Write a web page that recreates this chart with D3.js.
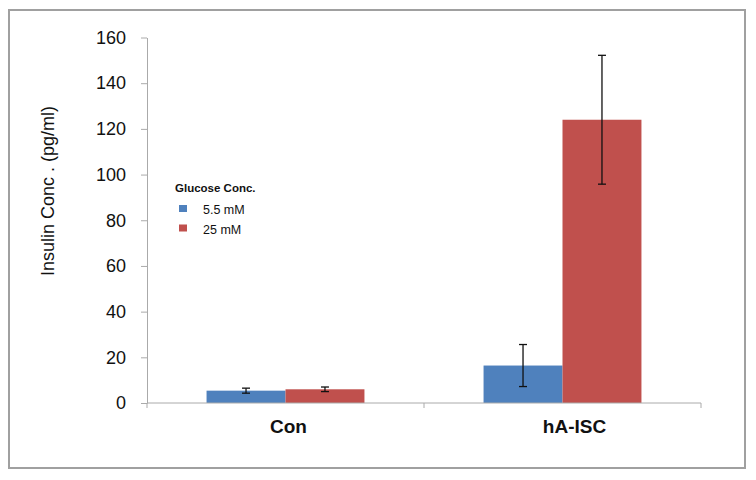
<!DOCTYPE html>
<html><head><meta charset="utf-8">
<script src="https://cdn.jsdelivr.net/npm/d3@7"></script>
<style>body{margin:0;background:#fff}svg{display:block}</style>
</head><body><svg id="c" width="756" height="480"></svg>
<script>
const categories = ["Con", "hA-ISC"];
const seriesNames = ["5.5 mM", "25 mM"];
const values5_5 = [5.4, 16.4];
const err5_5 = [1.1, 9.2];
const values25 = [6.0, 124.0];
const err25 = [1.0, 28.2];
const yTicks = [0, 20, 40, 60, 80, 100, 120, 140, 160];
const legendTitle = "Glucose Conc.";
const yTitle = "Insulin Conc . (pg/ml)";
const colors = ["#4F81BD", "#C0504D"];

const svg = d3.select("#c");
svg.append("rect").attr("x", 9).attr("y", 10).attr("width", 736).attr("height", 458)
  .attr("fill", "#fff").attr("stroke", "#a0a0a0").attr("stroke-width", 2);

const x0 = d3.scaleBand().domain(categories).range([147, 701]).paddingInner(0.43).paddingOuter(0.215);
const x1 = d3.scaleBand().domain(seriesNames).range([0, x0.bandwidth()]);
const y = d3.scaleLinear().domain([0, 160]).range([403, 37.5]);

const data = categories.map((c, i) => ({
  cat: c,
  vals: [
    {s: seriesNames[0], v: values5_5[i], e: err5_5[i], c: colors[0]},
    {s: seriesNames[1], v: values25[i], e: err25[i], c: colors[1]}
  ]
}));

// y axis
const yAxis = d3.axisLeft(y).tickValues(yTicks).tickSize(6).tickPadding(15).tickSizeOuter(0);
const gy = svg.append("g").attr("transform", "translate(147,0)").call(yAxis);
gy.select(".domain").attr("stroke", "#aaa");
gy.selectAll(".tick line").attr("stroke", "#aaa");
gy.selectAll(".tick text").attr("font-family", "Liberation Sans, Arial, sans-serif").attr("font-size", 18).attr("fill", "#111");

// bars
const groups = svg.append("g").selectAll("g").data(data).join("g")
  .attr("transform", d => `translate(${x0(d.cat)},0)`);
groups.selectAll("rect").data(d => d.vals).join("rect")
  .attr("x", d => x1(d.s)).attr("width", x1.bandwidth())
  .attr("y", d => y(d.v)).attr("height", d => y(0) - y(d.v))
  .attr("fill", d => d.c);

// error bars
const eb = groups.selectAll("g.err").data(d => d.vals).join("g").attr("class", "err")
  .attr("transform", d => `translate(${x1(d.s) + x1.bandwidth() / 2},0)`);
eb.append("line").attr("y1", d => y(d.v + d.e)).attr("y2", d => y(d.v - d.e)).attr("stroke", "#111").attr("stroke-width", 1.3);
eb.append("line").attr("x1", -4).attr("x2", 4).attr("y1", d => y(d.v + d.e)).attr("y2", d => y(d.v + d.e)).attr("stroke", "#111").attr("stroke-width", 1.3);
eb.append("line").attr("x1", -4).attr("x2", 4).attr("y1", d => y(d.v - d.e)).attr("y2", d => y(d.v - d.e)).attr("stroke", "#111").attr("stroke-width", 1.3);

// x axis
const gx = svg.append("g").attr("transform", "translate(0,403)");
gx.append("line").attr("x1", 147).attr("x2", 701).attr("stroke", "#aaa");
const bounds = [x0.range()[0], (x0("Con") + x0("hA-ISC") + x0.bandwidth()) / 2, x0.range()[1]];
gx.selectAll("line.t").data(bounds).join("line").attr("class", "t")
  .attr("x1", d => d).attr("x2", d => d).attr("y1", 0).attr("y2", 5).attr("stroke", "#aaa");
const labelDx = {"Con": 3, "hA-ISC": 12};
gx.selectAll("text").data(categories).join("text")
  .attr("x", d => x0(d) + x0.bandwidth() / 2 + labelDx[d]).attr("y", 30)
  .attr("text-anchor", "middle").attr("font-family", "Liberation Sans, Arial, sans-serif")
  .attr("font-weight", "bold").attr("font-size", 19).attr("fill", "#111").text(d => d);

// y title
svg.append("text").attr("transform", "translate(54,191) rotate(-90)")
  .attr("text-anchor", "middle").attr("font-family", "Liberation Sans, Arial, sans-serif")
  .attr("font-size", 18).attr("fill", "#111").text(yTitle);

// legend
const lg = svg.append("g");
lg.append("text").attr("x", 175).attr("y", 192).attr("font-family", "Liberation Sans, Arial, sans-serif")
  .attr("font-weight", "bold").attr("font-size", 11.5).attr("fill", "#111").text(legendTitle);
const li = lg.selectAll("g.li").data(seriesNames).join("g").attr("class", "li")
  .attr("transform", (d, i) => `translate(0,${205 + i * 19.5})`);
li.append("rect").attr("x", 179).attr("y", 0).attr("width", 8).attr("height", 7).attr("fill", (d, i) => colors[i]);
li.append("text").attr("x", 203).attr("y", 9).attr("font-family", "Liberation Sans, Arial, sans-serif")
  .attr("font-size", 12.5).attr("fill", "#111").text(d => d);
</script></body></html>
